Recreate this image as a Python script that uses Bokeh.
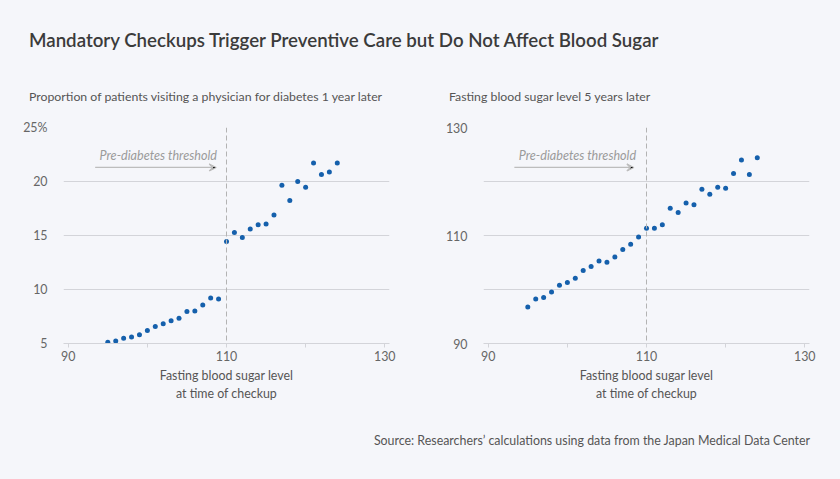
from bokeh.plotting import figure
from bokeh.layouts import column, row
from bokeh.models import Div, Span, Label, Arrow, VeeHead, FixedTicker, Range1d
from bokeh.embed import file_html
from bokeh.resources import INLINE

# ---- data ----
glucose = list(range(95, 125))
visit_pct = [5.12, 5.24, 5.49, 5.61, 5.8, 6.2, 6.57, 6.82, 7.1, 7.34,
             7.96, 8.02, 8.57, 9.22, 9.13, 14.44, 15.28, 14.81, 15.61, 16.0,
             16.07, 16.9, 19.66, 18.24, 20.0, 19.47, 21.72, 20.65, 20.89, 21.72]
sugar_5y = [96.78, 98.26, 98.5, 99.56, 100.8, 101.3, 102.1, 103.5, 104.26, 105.3,
            105.06, 106.0, 107.4, 108.4, 109.7, 111.35, 111.35, 112.0, 115.05, 114.26,
            116.0, 115.7, 118.57, 117.65, 118.94, 118.76, 121.5, 124.0, 121.3, 124.4]
threshold = 110
x_ticks = [90, 100, 110, 120, 130]
x_tick_labels = {90: "90", 100: "", 110: "110", 120: "", 130: "130"}
left_y_ticks = [5, 10, 15, 20, 25]
left_y_labels = {5: "5", 10: "10", 15: "15", 20: "20", 25: "25%"}
right_y_ticks = [90, 100, 110, 120, 130]
right_y_labels = {90: "90", 100: "", 110: "110", 120: "", 130: "130"}

title_text = "Mandatory Checkups Trigger Preventive Care but Do Not Affect Blood Sugar"
sub_left = "Proportion of patients visiting a physician for diabetes 1 year later"
sub_right = "Fasting blood sugar level 5 years later"
x_label = "Fasting blood sugar level\nat time of checkup"
source_text = "Source: Researchers\u2019 calculations using data from the Japan Medical Data Center"
annot_text = "Pre-diabetes threshold"

BG = "#f5f6fa"
FONT = "Lato"
GRID = "#d3d4d9"
DOT = "#1560ac"
FS = "12.4px"


def make_fig(y, yr, yticks, ylabels, width, mb_left, mb_right, annot):
    p = figure(width=width, height=304, output_backend="svg", toolbar_location=None,
               x_range=Range1d(89.4, 130.6), y_range=Range1d(*yr),
               min_border_left=mb_left, min_border_right=mb_right,
               min_border_top=13, min_border_bottom=75)
    p.background_fill_color = BG
    p.border_fill_color = BG
    p.outline_line_color = None

    p.xaxis.ticker = FixedTicker(ticks=x_ticks)
    p.xaxis.major_label_overrides = x_tick_labels
    p.xaxis.axis_line_color = GRID
    p.xaxis.major_tick_line_color = GRID
    p.xaxis.major_tick_out = 4
    p.xaxis.major_tick_in = 0
    p.xaxis.minor_tick_line_color = None
    p.xaxis.major_label_standoff = 3
    p.xaxis.major_label_text_font = FONT
    p.xaxis.major_label_text_font_size = FS
    p.xaxis.major_label_text_color = "#666666"
    p.xaxis.axis_label = x_label
    p.xaxis.axis_label_text_font = FONT
    p.xaxis.axis_label_text_font_size = FS
    p.xaxis.axis_label_text_font_style = "normal"
    p.xaxis.axis_label_text_color = "#555555"
    p.xaxis.axis_label_standoff = 4

    p.yaxis.ticker = FixedTicker(ticks=yticks)
    p.yaxis.major_label_overrides = ylabels
    p.yaxis.axis_line_color = None
    p.yaxis.major_tick_line_color = None
    p.yaxis.minor_tick_line_color = None
    p.yaxis.major_label_standoff = 10
    p.yaxis.major_label_text_font = FONT
    p.yaxis.major_label_text_font_size = FS
    p.yaxis.major_label_text_color = "#666666"

    p.xgrid.visible = False
    p.ygrid.ticker = FixedTicker(ticks=yticks)
    p.ygrid.grid_line_color = GRID

    p.add_layout(Span(location=threshold, dimension="height", line_color="#b3b3b3",
                      line_dash="5 3", line_width=1))
    tx, ty, ax0, ax1, ay = annot
    p.add_layout(Label(x=tx, y=ty, text=annot_text, text_align="right",
                       text_baseline="middle", text_font=FONT, text_font_style="italic",
                       text_font_size="12.6px", text_color="#9b9b9b"))
    p.add_layout(Arrow(end=VeeHead(size=7, line_color="#bdbdbd", line_width=1.2),
                       x_start=ax0, y_start=ay, x_end=ax1, y_end=ay,
                       line_color="#bdbdbd", line_width=1.2))

    p.scatter(glucose, y, size=5, color=DOT, line_color=None)
    return p


p1 = make_fig(visit_pct, (5, 25), left_y_ticks, left_y_labels, 428, 63, 39,
              (108.8, 22.4, 93.4, 108.7, 21.3))
p2 = make_fig(sugar_5y, (90, 130), right_y_ticks, right_y_labels, 412, 55, 31,
              (108.7, 124.8, 93.3, 108.4, 122.6))

title_div = Div(text=f'<div style="font-family:{FONT};font-size:18.7px;font-weight:600;'
                     f'color:#3b3b3b;line-height:80px;padding-left:29px;white-space:nowrap;">'
                     f'{title_text}</div>', width=840, height=80, margin=0)
sub1 = Div(text=f'<div style="font-family:{FONT};font-size:12.3px;color:#555555;'
                f'line-height:34px;padding-left:29px;white-space:nowrap;">{sub_left}</div>',
           width=428, height=34, margin=0)
sub2 = Div(text=f'<div style="font-family:{FONT};font-size:12.3px;color:#555555;'
                f'line-height:34px;padding-left:21px;white-space:nowrap;">{sub_right}</div>',
           width=412, height=34, margin=0)
src = Div(text=f'<div style="font-family:{FONT};font-size:12.4px;color:#555555;'
               f'line-height:46px;text-align:right;width:840px;box-sizing:border-box;'
               f'padding-right:30px;white-space:nowrap;">{source_text}</div>',
          width=840, height=61, margin=0)

p = column(title_div, row(sub1, sub2, spacing=0), row(p1, p2, spacing=0), src, spacing=0)

html = file_html(p, INLINE, title="chart")
html = html.replace("<head>", f"<head><style>body{{background:{BG};margin:0;}}</style>", 1)
open("out.html", "w").write(html)
